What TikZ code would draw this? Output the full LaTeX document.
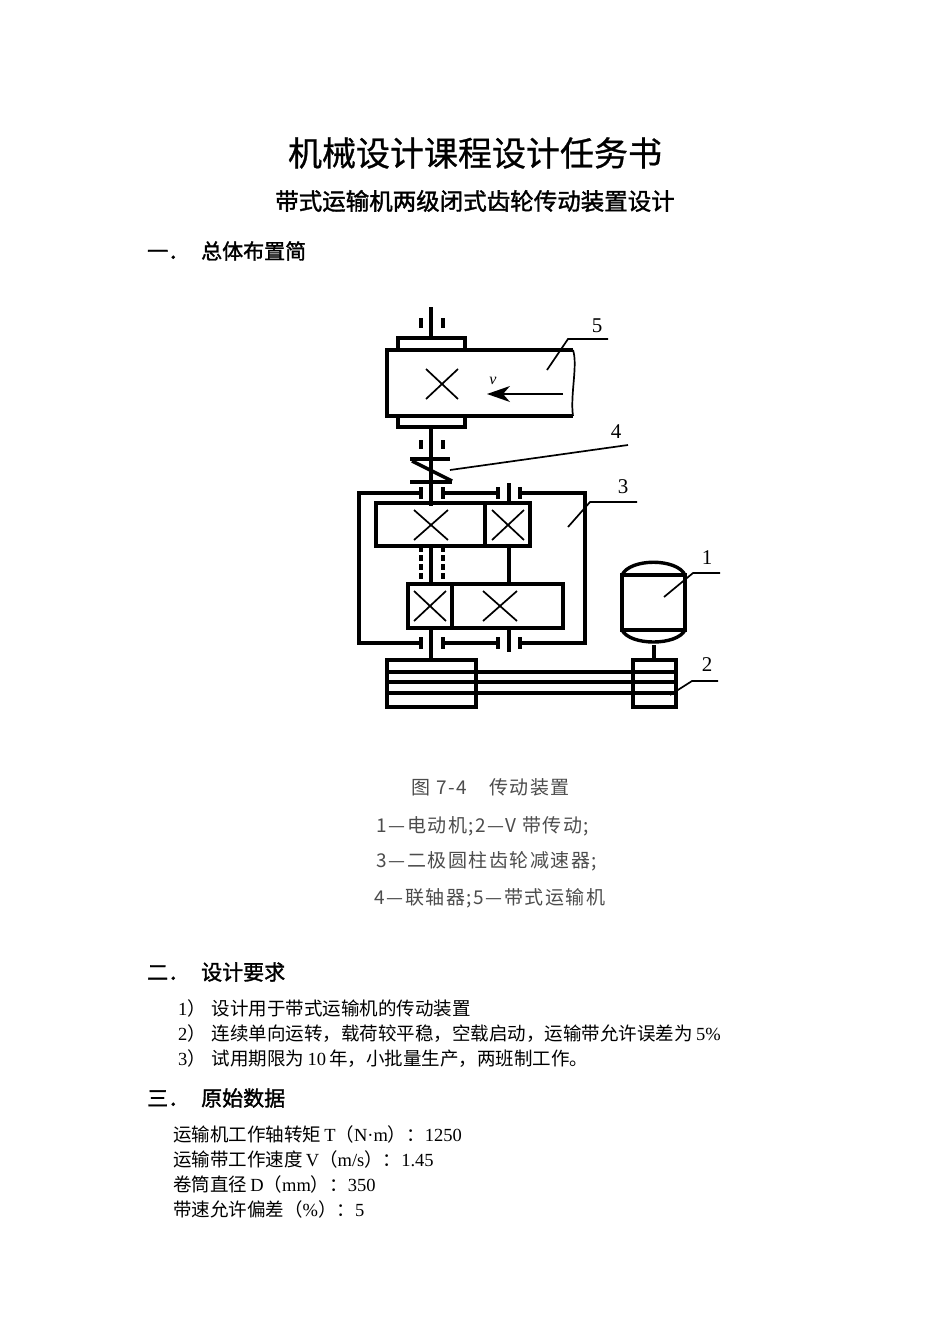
\documentclass[tikz,border=0pt]{standalone}
\usepackage{fontspec}
\setmainfont{Liberation Serif}
\newfontfamily\cjk{Noto Sans CJK SC}
\newfontfamily\cjkb{Noto Sans CJK SC}[FakeBold=1.5]
\newfontfamily\cjkt{Noto Sans CJK SC}[FakeBold=0.8]
\newfontfamily\cjkc{Noto Sans CJK SC}[LetterSpace=8]
\usetikzlibrary{arrows.meta}
\begin{document}
\begin{tikzpicture}[x=1pt,y=-1pt,
  ln/.style={line width=3.4pt},
  thin/.style={line width=1.7pt},
  lbl/.style={font=\fontsize{21}{21}\selectfont},
  captxt/.style={anchor=west,text=black!70,font=\cjkc\fontsize{19}{19}\selectfont},
  body/.style={anchor=west,font=\fontsize{18.5}{18.5}\selectfont,inner sep=0pt},
  head/.style={anchor=west,font=\cjkb\fontsize{21}{21}\selectfont,inner sep=0pt}]
\useasboundingbox (0,0) rectangle (950,1344);
\node (t1) at (475,153) {\cjkt\fontsize{34}{34}\selectfont 机械设计课程设计任务书};
\node (t2) at (475,201) {\cjkb\fontsize{23.5}{23.5}\selectfont 带式运输机两级闭式齿轮传动装置设计};
\node[head] (h1) at (147,251) {一．\hspace{12pt}总体布置简};
% top shaft and drum
\draw[ln] (431,307)--(431,338);
\draw[ln] (421,318)--(421,328) (443,318)--(443,328);
\draw[ln] (398,350)--(398,338)--(465,338)--(465,350);
\draw[ln] (573,350)--(387,350)--(387,416)--(573,416);
\draw[thin] (573,350) .. controls (578,365) and (570,395) .. (573,416);
\draw[ln] (398,416)--(398,427)--(465,427)--(465,416);
\draw[thin] (426,369)--(458,399) (458,369)--(426,399);
\draw[thin] (563,394)--(500,394);
\fill (487,394)--(510,386)--(503,394)--(510,402)--cycle;
\node (v) at (493,381) {\fontsize{16}{16}\selectfont\itshape v};
\draw[thin] (547,370)--(568,339)--(608,339);
\node[lbl] (n5) at (597,326) {5};
% shaft to coupling
\draw[ln] (431,427)--(431,506);
\draw[ln] (421,440)--(421,449) (443,440)--(443,449);
\draw[ln] (410,459)--(450,459);
\draw[ln] (412,461)--(452,481);
\draw[ln] (410,482)--(452,482);
\draw[thin] (450,470)--(628,445);
\node[lbl] (n4) at (616,432) {4};
% housing
\draw[ln] (421,493)--(359,493)--(359,643)--(421,643);
\draw[ln] (443,493)--(498,493) (443,643)--(498,643);
\draw[ln] (520,493)--(585,493)--(585,643)--(520,643);
\draw[ln] (421,487)--(421,499) (443,487)--(443,499) (498,487)--(498,499) (520,487)--(520,499);
\draw[ln] (421,637)--(421,649) (443,637)--(443,649) (498,637)--(498,649) (520,637)--(520,649);
\draw[ln] (509,483)--(509,503);
\draw[ln] (509,628)--(509,652);
% gears
\draw[ln] (376,503) rectangle (485,546);
\draw[ln] (485,503) rectangle (530,546);
\draw[thin] (414,510)--(448,540) (448,510)--(414,540);
\draw[thin] (492,510)--(524,540) (524,510)--(492,540);
\draw[ln,dash pattern=on 6pt off 3pt] (421,546)--(421,584) (443,546)--(443,584);
\draw[ln] (431,546)--(431,584);
\draw[ln] (509,546)--(509,584);
\draw[ln] (408,584) rectangle (452,628);
\draw[ln] (452,584) rectangle (563,628);
\draw[thin] (414,591)--(446,621) (446,591)--(414,621);
\draw[thin] (483,591)--(517,621) (517,591)--(483,621);
\draw[ln] (431,628)--(431,660);
\draw[thin] (568,527)--(590,502)--(637,502);
\node[lbl] (n3) at (623,487) {3};
% pulleys and belt
\draw[ln] (387,660) rectangle (476,707);
\draw[ln] (633,660) rectangle (676,707);
\draw[ln] (387,672)--(676,672) (387,682)--(676,682) (387,693)--(676,693);
% motor
\draw[ln] (622,575) rectangle (685,630);
\draw[ln] (622,575) .. controls (630,558) and (677,558) .. (685,575);
\draw[ln] (622,630) .. controls (630,646) and (677,646) .. (685,630);
\draw[ln] (654,645)--(654,660);
\draw[thin] (664,597)--(693,573)--(720,573);
\node[lbl] (n1) at (707,558) {1};
\draw[thin] (670,695)--(692,681)--(718,681);
\node[lbl] (n2) at (707,665) {2};
% caption
\node[captxt] (c1) at (408,787) {图 7-4\hspace{22pt}传动装置};
\node[captxt] (c2) at (373,826) {1—电动机;2—V 带传动;};
\node[captxt] (c3) at (373,861) {3—二极圆柱齿轮减速器;};
\node[captxt] (c4) at (371,898) {4—联轴器;5—带式运输机};
% text
\node[head] (h2) at (147,972) {二．\hspace{12pt}设计要求};
\node[body] (b1) at (178,1008) {1{\cjk ）}\hspace{6pt}{\cjk 设计用于带式运输机的传动装置}};
\node[body] (b2) at (178,1034) {2{\cjk ）}\hspace{6pt}{\cjk 连续单向运转，载荷较平稳，空载启动，运输带允许误差为}\,5\%};
\node[body] (b3) at (178,1059) {3{\cjk ）}\hspace{6pt}{\cjk 试用期限为}\,10\,{\cjk 年，小批量生产，两班制工作。}};
\node[head] (h3) at (147,1098) {三．\hspace{12pt}原始数据};
\node[body] (d1) at (173,1134) {{\cjk 运输机工作轴转矩}\,T{\cjk （}N·m{\cjk ）：}1250};
\node[body] (d2) at (173,1159) {{\cjk 运输带工作速度}\,V{\cjk （}m/s{\cjk ）：}1.45};
\node[body] (d3) at (173,1184) {{\cjk 卷筒直径}\,D{\cjk （}mm{\cjk ）：}350};
\node[body] (d4) at (173,1209) {{\cjk 带速允许偏差（}\%{\cjk ）：}5};
\end{tikzpicture}
\end{document}
